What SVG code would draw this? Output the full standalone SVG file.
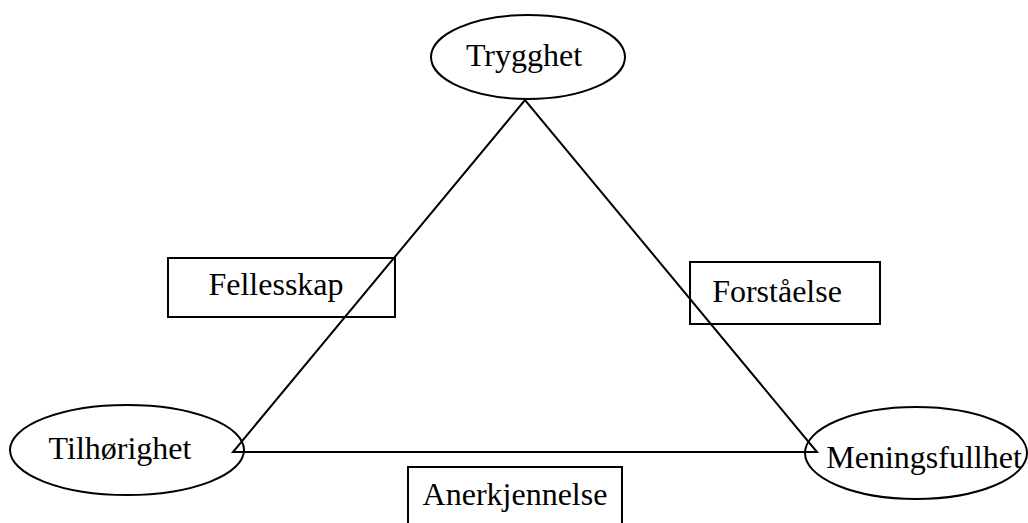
<svg xmlns="http://www.w3.org/2000/svg" width="1028" height="523" viewBox="0 0 1028 523">
<style>
.n{fill:#fff;stroke:#000;stroke-width:2}
.t{font-family:"Liberation Serif","Times New Roman",serif;font-size:32px;fill:#000;text-anchor:middle}
.c{stroke:#000;stroke-width:2;fill:none}
</style>
<rect width="1028" height="523" fill="#fff"/>
<g id="Trygghet"><ellipse class="n" cx="528" cy="57" rx="97" ry="42"/><text class="t" x="524" y="66">Trygghet</text></g>
<g id="Tilhorighet"><ellipse class="n" cx="127" cy="450" rx="117" ry="45"/><text class="t" x="120" y="459">Tilhørighet</text></g>
<g id="Meningsfullhet"><ellipse class="n" cx="916" cy="453" rx="111" ry="46"/><text class="t" x="924" y="468">Meningsfullhet</text></g>
<g id="Fellesskap"><rect class="n" x="168" y="258" width="227" height="59"/><text class="t" x="276" y="295">Fellesskap</text></g>
<g id="Forstaelse"><rect class="n" x="690" y="262" width="190" height="62"/><text class="t" x="777" y="302">Forståelse</text></g>
<g id="Anerkjennelse"><rect class="n" x="408" y="467" width="214" height="70"/><text class="t" x="515" y="505">Anerkjennelse</text></g>
<g id="connectors">
<path class="c" d="M525 100 L233 452 L817 452 Z"/>
</g>
</svg>
